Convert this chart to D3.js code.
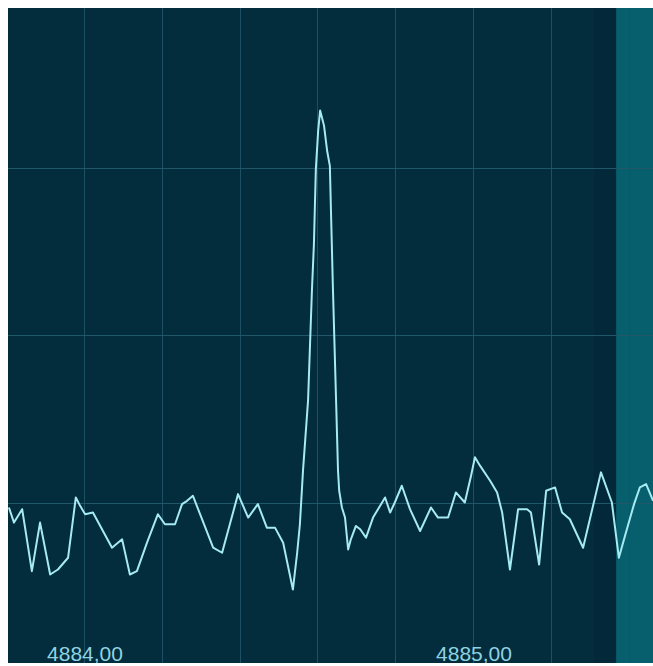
<!DOCTYPE html>
<html>
<head>
<meta charset="utf-8">
<script src="https://cdn.jsdelivr.net/npm/d3@7"></script>
<style>
  html, body { margin: 0; padding: 0; background: #ffffff; }
  svg { display: block; }
</style>
</head>
<body>
<script>
// Spectrum trace: frequency (kHz) and level (dB)
const freqs = [
  4883.807, 4883.820, 4883.841, 4883.866, 4883.887, 4883.913, 4883.933, 4883.959, 4883.979, 4883.990,
  4884.003, 4884.023, 4884.072, 4884.098, 4884.118, 4884.136, 4884.162, 4884.190, 4884.208, 4884.234,
  4884.252, 4884.265, 4884.280, 4884.332, 4884.355, 4884.396, 4884.422, 4884.447, 4884.470, 4884.491,
  4884.512, 4884.537, 4884.548, 4884.555, 4884.563, 4884.576, 4884.586, 4884.591, 4884.596, 4884.602,
  4884.607, 4884.617, 4884.625, 4884.632, 4884.635, 4884.640, 4884.648, 4884.653, 4884.656, 4884.663,
  4884.671, 4884.679, 4884.686, 4884.699, 4884.710, 4884.725, 4884.743, 4884.774, 4884.787, 4884.799,
  4884.817, 4884.838, 4884.864, 4884.892, 4884.910, 4884.936, 4884.956, 4884.979, 4884.995, 4885.005,
  4885.018, 4885.044, 4885.062, 4885.075, 4885.095, 4885.116, 4885.139, 4885.149, 4885.170, 4885.188,
  4885.211, 4885.229, 4885.249, 4885.283, 4885.329, 4885.357, 4885.375, 4885.393, 4885.414, 4885.429,
  4885.445, 4885.463
];
const levels = [
  -80.3, -81.2, -80.4, -84.1, -81.2, -84.3, -84.0, -83.3, -79.7, -80.2,
  -80.7, -80.6, -82.7, -82.2, -84.3, -84.1, -82.4, -80.7, -81.3, -81.3,
  -80.1, -79.9, -79.6, -82.7, -83.0, -79.5, -80.9, -80.1, -81.5, -81.5,
  -82.4, -85.2, -83.0, -81.3, -78.1, -73.9, -67.3, -64.6, -60.1, -57.8,
  -56.6, -57.5, -59.0, -59.9, -62.7, -67.3, -73.9, -78.1, -79.3, -80.3,
  -80.9, -82.8, -82.2, -81.4, -81.6, -82.1, -80.9, -79.7, -80.6, -80.0,
  -79.0, -80.4, -81.7, -80.3, -80.9, -80.9, -79.4, -80.0, -78.4, -77.3,
  -77.8, -78.7, -79.4, -80.6, -84.0, -80.4, -80.4, -80.6, -83.7, -79.3,
  -79.1, -80.6, -81.0, -82.7, -78.2, -80.0, -83.3, -81.8, -80.1, -79.1,
  -78.9, -79.9
];

// Grid and axis ticks
const freqTicks = [4883.8, 4884.0, 4884.2, 4884.4, 4884.6, 4884.8, 4885.0, 4885.2, 4885.4];
const freqLabels = [4884.0, 4885.0];
const levelTicks = [-60, -70, -80];
// Start of the highlighted band at the right edge
const bandStart = 4885.368;

const W = 653, H = 666;
const plot = { left: 8, top: 8, right: 653, bottom: 663 };

const svg = d3.select("body").append("svg")
  .attr("width", W).attr("height", H);

const x = d3.scaleLinear().domain([4884.0, 4885.0]).range([84, 473]);
const y = d3.scaleLinear().domain([-90, -50]).range([670, 0]);

svg.append("defs").append("clipPath").attr("id", "plotClip")
  .append("rect")
  .attr("x", plot.left).attr("y", plot.top)
  .attr("width", plot.right - plot.left).attr("height", plot.bottom - plot.top);

const g = svg.append("g").attr("clip-path", "url(#plotClip)");

// background
g.append("rect")
  .attr("x", plot.left).attr("y", plot.top)
  .attr("width", plot.right - plot.left).attr("height", plot.bottom - plot.top)
  .attr("fill", "#032c3d");

// slightly darker strip before the band
g.append("rect")
  .attr("x", x(bandStart) - 22).attr("y", plot.top)
  .attr("width", 22).attr("height", plot.bottom - plot.top)
  .attr("fill", "#032839");

// highlighted band
g.append("rect")
  .attr("x", x(bandStart)).attr("y", plot.top)
  .attr("width", plot.right - x(bandStart)).attr("height", plot.bottom - plot.top)
  .attr("fill", "#075f6e");

// vertical grid
g.append("g").selectAll("line").data(freqTicks).join("line")
  .attr("x1", d => Math.round(x(d)) + 0.5).attr("x2", d => Math.round(x(d)) + 0.5)
  .attr("y1", plot.top).attr("y2", plot.bottom)
  .attr("stroke", "#1b5163").attr("stroke-width", 1);

// horizontal grid
g.append("g").selectAll("line").data(levelTicks).join("line")
  .attr("x1", plot.left).attr("x2", plot.right)
  .attr("y1", d => Math.round(y(d)) + 0.5).attr("y2", d => Math.round(y(d)) + 0.5)
  .attr("stroke", "#215869").attr("stroke-width", 1);

// spectrum trace
const pts = freqs.map((f, i) => [f, levels[i]]);
const line = d3.line().x(d => x(d[0])).y(d => y(d[1]));
g.append("path")
  .attr("d", line(pts))
  .attr("fill", "none")
  .attr("stroke", "#a6eaf2")
  .attr("stroke-width", 2)
  .attr("stroke-linejoin", "round");

// frequency labels
const fmt = d => d.toFixed(2).replace(".", ",");
g.append("g").selectAll("text").data(freqLabels).join("text")
  .attr("x", d => x(d) + 1)
  .attr("y", 661)
  .attr("text-anchor", "middle")
  .attr("font-family", "'Liberation Sans', Arial, sans-serif")
  .attr("font-size", 21)
  .attr("fill", "#8fd3e0")
  .text(fmt);
</script>
</body>
</html>
